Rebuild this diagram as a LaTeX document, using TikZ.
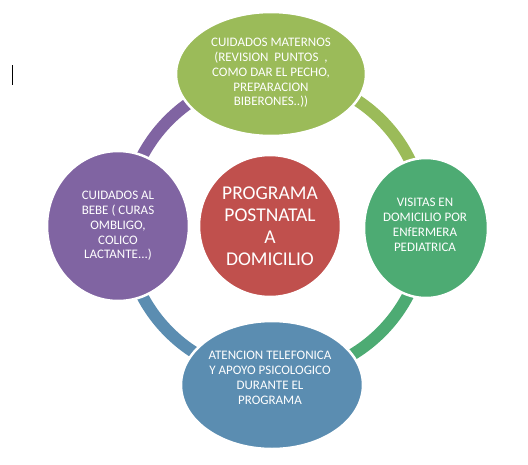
\documentclass[tikz,border=0pt]{standalone}
\usepackage{fontspec}
\setmainfont{Carlito}
\usetikzlibrary{shapes.geometric}
\definecolor{cOlive}{HTML}{9BBB59}
\definecolor{cPurple}{HTML}{8064A2}
\definecolor{cRed}{HTML}{C0504D}
\definecolor{cGreen}{HTML}{4DAB73}
\definecolor{cBlue}{HTML}{5B8DB1}
\tikzset{
  ringseg/.style={line width=12pt},
  blob/.style={ellipse, draw=white, line width=2.5pt, inner sep=0pt},
  smalltxt/.style={text=white, align=center, font=\fontsize{13}{14.8}\selectfont},
  bigtxt/.style={text=white, align=center, font=\fontsize{19.5}{22}\selectfont},
}
\begin{document}
\begin{tikzpicture}[x=1pt,y=-1pt]
\useasboundingbox[fill=white] (0,0) rectangle (528,464);
\coordinate (c) at (275,226);
% ring segments
\draw[ringseg, cOlive] (c) ++(270:150) arc[start angle=270, end angle=360, radius=150];
\draw[ringseg, cGreen] (c) ++(0:150) arc[start angle=0, end angle=90, radius=150];
\draw[ringseg, cBlue] (c) ++(90:150) arc[start angle=90, end angle=180, radius=150];
\draw[ringseg, cPurple] (c) ++(180:150) arc[start angle=180, end angle=270, radius=150];
% nodes
\node[blob, fill=cOlive, minimum width=190pt, minimum height=124pt] (top) at (271,74) {};
\node[blob, fill=cGreen, minimum width=124pt, minimum height=140pt] (right) at (426,228) {};
\node[blob, fill=cBlue, minimum width=182pt, minimum height=128pt] (bottom) at (272,385) {};
\node[blob, fill=cPurple, minimum width=142pt, minimum height=150pt] (left) at (118,226) {};
\node[blob, fill=cRed, minimum width=142pt, minimum height=142pt] (center) at (270,226) {};
% texts
\node[smalltxt] (toptxt) at (271,73) {CUIDADOS MATERNOS\\(REVISION\ \ PUNTOS\ \ ,\\COMO DAR EL PECHO,\\PREPARACION\\BIBERONES..))};
\node[smalltxt] (righttxt) at (425,225) {VISITAS EN\\DOMICILIO POR\\ENfERMERA\\PEDIATRICA};
\node[smalltxt] (bottomtxt) at (270,378) {ATENCION TELEFONICA\\Y APOYO PSICOLOGICO\\DURANTE EL\\PROGRAMA};
\node[smalltxt] (lefttxt) at (118,226) {CUIDADOS AL\\BEBE ( CURAS\\OMBLIGO,\\COLICO\\LACTANTE...)};
\node[bigtxt] (centertxt) at (270,226) {PROGRAMA\\POSTNATAL\\A\\DOMICILIO};
% text cursor mark
\draw[line width=1.6pt] (12.6,65) -- (12.6,85);
\end{tikzpicture}
\end{document}
